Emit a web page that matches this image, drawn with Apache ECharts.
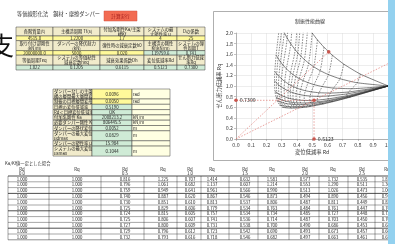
<!DOCTYPE html>
<html>
<head>
<meta charset="utf-8">
<script src="https://cdn.jsdelivr.net/npm/echarts@6/dist/echarts.min.js"></script>
<style>
html, body { margin: 0; padding: 0; background: #fff; }
#main { width: 395px; height: 244px; }
</style>
</head>
<body>
<div id="main"></div>
<script>
// 付加系剛性比 Ka/Kf と 塑性率 μ
const kaKfList = [0, 0.5, 1, 1.5, 2, 2.5, 3, 3.5, 4, 4.5, 5, 6, 7, 8, 9, 10];
const muList = [1, 1.5, 2, 2.5, 3, 4, 5, 6, 8, 10];

// 変位低減率 Rd（行: Ka/Kf, 列: μ）
const rdByKa = [
  [1, 1, 1, 1, 1, 1, 1, 1, 1, 1],
  [0.8165, 0.7958, 0.7593, 0.7395, 0.7298, 0.7244, 0.7269, 0.7323, 0.7456, 0.7589],
  [0.7071, 0.6823, 0.6405, 0.6195, 0.6097, 0.6052, 0.6089, 0.6155, 0.6311, 0.6466],
  [0.6325, 0.6072, 0.5657, 0.5458, 0.5370, 0.5339, 0.5384, 0.5455, 0.5617, 0.5778],
  [0.5774, 0.5527, 0.5128, 0.4943, 0.4866, 0.4846, 0.4897, 0.4971, 0.5136, 0.5297],
  [0.5345, 0.5107, 0.4727, 0.4555, 0.4487, 0.4477, 0.4532, 0.4609, 0.4775, 0.4935],
  [0.5000, 0.4771, 0.4409, 0.4249, 0.4188, 0.4186, 0.4245, 0.4323, 0.4489, 0.4649],
  [0.4714, 0.4494, 0.4148, 0.3999, 0.3944, 0.3949, 0.4010, 0.4089, 0.4255, 0.4414],
  [0.4472, 0.4260, 0.3929, 0.3789, 0.3740, 0.3750, 0.3813, 0.3892, 0.4058, 0.4216],
  [0.4264, 0.4060, 0.3742, 0.3610, 0.3565, 0.3579, 0.3644, 0.3724, 0.3889, 0.4045],
  [0.4082, 0.3885, 0.3580, 0.3454, 0.3413, 0.3431, 0.3497, 0.3577, 0.3742, 0.3897],
  [0.3780, 0.3594, 0.3310, 0.3196, 0.3161, 0.3184, 0.3252, 0.3332, 0.3495, 0.3648],
  [0.3536, 0.3361, 0.3094, 0.2989, 0.2958, 0.2985, 0.3054, 0.3134, 0.3295, 0.3445],
  [0.3333, 0.3167, 0.2915, 0.2818, 0.2791, 0.2820, 0.2889, 0.2968, 0.3128, 0.3276],
  [0.3162, 0.3004, 0.2764, 0.2673, 0.2649, 0.2681, 0.2749, 0.2828, 0.2985, 0.3132],
  [0.3015, 0.2863, 0.2635, 0.2549, 0.2527, 0.2560, 0.2628, 0.2706, 0.2862, 0.3006]
];
// せん断力低減率 Rq
const rqByKa = [
  [1, 1, 1, 1, 1, 1, 1, 1, 1, 1],
  [1.2247, 1.0611, 0.9491, 0.8874, 0.8514, 0.8149, 0.7996, 0.7933, 0.7922, 0.7968],
  [1.4142, 1.1372, 0.9608, 0.8673, 0.8129, 0.7566, 0.7307, 0.7181, 0.7100, 0.7112],
  [1.5811, 1.2144, 0.9901, 0.8733, 0.8055, 0.7341, 0.6999, 0.6819, 0.6671, 0.6644],
  [1.7321, 1.2896, 1.0256, 0.8898, 0.8109, 0.7269, 0.6856, 0.6628, 0.6420, 0.6357],
  [1.8708, 1.3619, 1.0635, 0.9111, 0.8226, 0.7275, 0.6799, 0.6529, 0.6267, 0.6169],
  [2.0000, 1.4312, 1.1022, 0.9349, 0.8376, 0.7326, 0.6792, 0.6484, 0.6173, 0.6044],
  [2.1213, 1.4979, 1.1407, 0.9598, 0.8546, 0.7404, 0.6817, 0.6474, 0.6117, 0.5959],
  [2.2361, 1.5620, 1.1788, 0.9852, 0.8726, 0.7499, 0.6863, 0.6487, 0.6087, 0.5902],
  [2.3452, 1.6238, 1.2162, 1.0108, 0.8912, 0.7605, 0.6924, 0.6517, 0.6077, 0.5866],
  [2.4495, 1.6835, 1.2529, 1.0363, 0.9101, 0.7719, 0.6994, 0.6558, 0.6081, 0.5845],
  [2.6458, 1.7972, 1.3241, 1.0867, 0.9482, 0.7960, 0.7154, 0.6664, 0.6117, 0.5837],
  [2.8284, 1.9043, 1.3922, 1.1357, 0.9861, 0.8209, 0.7329, 0.6790, 0.6178, 0.5857],
  [3.0000, 2.0060, 1.4576, 1.1834, 1.0232, 0.8461, 0.7512, 0.6926, 0.6256, 0.5897],
  [3.1623, 2.1028, 1.5205, 1.2295, 1.0596, 0.8712, 0.7698, 0.7070, 0.6344, 0.5950],
  [3.3166, 2.1953, 1.5810, 1.2743, 1.0951, 0.8960, 0.7885, 0.7217, 0.6439, 0.6011]
];

// 計算結果（設計点）
const designRd = 0.5123;
const designRq = 0.7300;
const elasticRd = 0.6086;   // μ=1 上の点
const elasticRq = 1.6432;

// 上の入力表
const topHead1 = ['各階質量(t)', '主構造周期 Tf(s)', '付加系剛性Ka/主架\n構Kf', 'システムの最\n大塑性率 μ', 'Dの係数'];
const topVal1 = ['4515.0', '1.2200', '1.7', '4', '25'];
const topHead2 = ['取り付け部剛性\n(kN/m)', 'ダンパーの降伏耐力\n(kN)', '弾性時の減衰定数h0', '主構造の剛性\nKf(kN/m)', 'システムの弾\n性周期T'];
const topVal2 = ['20000000.0', '5000', '0.020', '119759.6', '0.741'];
const topHead3 = ['等価周期Teq', 'システムの等価粘性\n減衰定数heq', '減衰効果係数Dh', '変位低減率Rd', 'せん断力低減\n率Rq'];
const topVal3 = ['1.022', '0.1205', '0.6115', '0.5123', '0.7300'];

// 中の結果表
const midLabels = ['ダンパーなしの主架\n構の層間最大層間変', '制振の目標層間変形角', '目標の変位低減率', 'Rd＜目標変位低減率', '付加系剛性 Ka',
  '必要ダンパー剛性 Kd', 'ダンパーの降伏変位', 'ダンパーの最大変位\nudmax', 'ダンパーの塑性率 μd', 'システムの最大変位\nusmax'];
const midValues = ['0.0096', '0.0050', '0.5190', 'OK', '2008213.2', '806445.5', '0.0052', '0.0829', '15.984', '0.1044'];
const midUnits = ['rad', 'rad', '', '', 'kN/m', 'kN/m', 'm', 'm', '', 'm'];

// 下の表 Ka/Kf 一定
const tableKa = ['0.0', '0.5', '1.0', '1.5', '2.0', '2.5'];
const tableRd = [
  [1, 1, 1, 1, 1, 1, 1, 1, 1, 1, 1],
  [0.816, 0.796, 0.759, 0.740, 0.730, 0.725, 0.724, 0.725, 0.727, 0.729, 0.732],
  [0.707, 0.682, 0.641, 0.620, 0.610, 0.606, 0.605, 0.607, 0.609, 0.612, 0.616],
  [0.632, 0.607, 0.566, 0.546, 0.537, 0.534, 0.534, 0.536, 0.538, 0.542, 0.546],
  [0.577, 0.553, 0.513, 0.494, 0.487, 0.484, 0.485, 0.487, 0.490, 0.493, 0.497],
  [0.535, 0.511, 0.473, 0.456, 0.449, 0.447, 0.448, 0.450, 0.453, 0.457, 0.461]
];
const tableRq = [
  [1, 1, 1, 1, 1, 1, 1, 1, 1, 1, 1],
  [1.225, 1.061, 0.949, 0.887, 0.851, 0.829, 0.815, 0.806, 0.800, 0.796, 0.793],
  [1.414, 1.137, 0.961, 0.867, 0.813, 0.779, 0.757, 0.741, 0.731, 0.723, 0.718],
  [1.581, 1.214, 0.990, 0.873, 0.806, 0.763, 0.734, 0.714, 0.700, 0.690, 0.682],
  [1.732, 1.290, 1.026, 0.890, 0.811, 0.761, 0.727, 0.703, 0.686, 0.673, 0.663],
  [1.871, 1.362, 1.064, 0.911, 0.823, 0.766, 0.728, 0.700, 0.680, 0.665, 0.653]
];

const JP = '"Noto Sans CJK JP", "Noto Sans", sans-serif';
const g = [];

function text(x, y, s, size, align, color, vAlign) {
  g.push({
    type: 'text', x: x, y: y, silent: true,
    style: {
      text: s, font: size + 'px ' + JP, fill: color || '#222',
      align: align || 'left', verticalAlign: vAlign || 'middle', lineHeight: size * 1.12
    }
  });
}

function cell(x, y, w, h, fill, s, size, align) {
  g.push({
    type: 'rect', silent: true,
    shape: { x: x, y: y, width: w, height: h },
    style: { fill: fill, stroke: '#3c3c3c', lineWidth: 0.5 }
  });
  if (s === undefined || s === '') return;
  if (align === 'left') text(x + 1, y + h / 2, s, size, 'left');
  else text(x + w / 2, y + h / 2, s, size, 'center');
}

const HEAD = '#F1EBCB', YEL = '#FFF99A', GRN = '#CFEBD6', PALE = '#FFFFE2';

// タイトルとボタン
text(17, 14, '等価線形化法　鋼材・摩擦ダンパー', 5.2, 'left', '#333');
g.push({ type: 'rect', silent: true, shape: { x: 104, y: 11, width: 33, height: 10 },
  style: { fill: '#F26B52', stroke: '#D05040', lineWidth: 0.5 } });
text(120.5, 16, '計算実行', 4.6, 'center', '#A01818');

// 左端の大きな文字（はみ出し）
text(-11, 45, '支', 25, 'left', '#111');

// 上の表
const topCols = [16, 53, 100, 144, 177, 205];
const topRows = [
  [27, 9, HEAD, topHead1],
  [36, 4.6, YEL, topVal1],
  [40.6, 10, HEAD, topHead2],
  [50.6, 4.6, [YEL, YEL, YEL, GRN, GRN], topVal2],
  [55.2, 10, HEAD, topHead3],
  [65.2, 4.8, GRN, topVal3]
];
topRows.forEach(function (r) {
  for (let c = 0; c < 5; c++) {
    const fill = Array.isArray(r[2]) ? r[2][c] : r[2];
    cell(topCols[c], r[0], topCols[c + 1] - topCols[c], r[1], fill, r[3][c], 4.3);
  }
});

// 中の表
const midCols = [53, 92, 132, 170];
const midH = [10, 5.3, 5.3, 5.3, 5.3, 5.3, 5.3, 10, 5.3, 10];
let my = 89;
midLabels.forEach(function (lab, i) {
  const h = midH[i];
  cell(midCols[0], my, midCols[1] - midCols[0], h, HEAD, lab, 4.3, 'left');
  cell(midCols[1], my, midCols[2] - midCols[1], h, i < 2 ? YEL : GRN, midValues[i], 4.3);
  cell(midCols[2], my, midCols[3] - midCols[2], h, PALE, midUnits[i], 4.3, 'left');
  my += h;
});

// 下の表
text(5, 163.5, 'Ka/Kf値一定とした場合', 4.3, 'left', '#333');
const botCenters = [22, 77, 125, 163, 190, 212, 245, 272, 305, 333, 362, 387];
const botEdges = [8, 49, 101, 144, 177, 201, 229, 258, 289, 319, 348, 375, 400];
botCenters.forEach(function (cx, c) {
  const isRd = c % 2 === 0;
  text(cx, 169, isRd ? 'Rd' : 'Rq', 4.3, 'center', '#222');
  if (isRd) text(cx, 173.3, tableKa[c / 2], 4.3, 'center', '#222');
});
const rowTop = 176, rowH = 5.8;
for (let r = 0; r < 11; r++) {
  const y = rowTop + r * rowH;
  g.push({ type: 'line', silent: true, shape: { x1: botEdges[0], y1: y, x2: 400, y2: y },
    style: { stroke: '#222', lineWidth: r % 3 === 0 ? 0.8 : 0.4 } });
  botCenters.forEach(function (cx, c) {
    const ki = Math.floor(c / 2);
    const v = c % 2 === 0 ? tableRd[ki][r] : tableRq[ki][r];
    text(cx, y + rowH / 2, v.toFixed(3), 4.3, 'center', '#222');
  });
}
g.push({ type: 'line', silent: true, shape: { x1: botEdges[0], y1: rowTop + 11 * rowH, x2: 400, y2: rowTop + 11 * rowH },
  style: { stroke: '#222', lineWidth: 0.5 } });
botEdges.forEach(function (x) {
  g.push({ type: 'line', silent: true, shape: { x1: x, y1: rowTop, x2: x, y2: rowTop + 11 * rowH },
    style: { stroke: '#222', lineWidth: 0.4 } });
});

// グラフ枠
g.push({ type: 'rect', silent: true, z: -10, shape: { x: 213.5, y: 11.5, width: 190, height: 149 },
  style: { fill: '#fff', stroke: '#9a9a9a', lineWidth: 0.8 } });
text(310, 21, '制振性能曲線', 5, 'center', '#333');

// 右端の青い帯
g.push({ type: 'rect', silent: true, z: 50, shape: { x: 388, y: 0, width: 7, height: 244 },
  style: { fill: '#93D1EF' } });

// 系列
const series = [];
kaKfList.forEach(function (k, i) {
  if (k === 0) return;
  series.push({
    type: 'line', name: 'Ka/Kf=' + k, silent: true, symbol: 'none', animation: false,
    data: muList.map(function (m, j) { return [rdByKa[i][j], rqByKa[i][j]]; }),
    smooth: 0.3,
    lineStyle: { color: '#3a3a3a', width: 0.6, type: [1.5, 1.2] }
  });
});
muList.forEach(function (m, j) {
  series.push({
    type: 'line', name: 'μ=' + m, silent: true, symbol: 'none', animation: false,
    data: kaKfList.map(function (k, i) { return [rdByKa[i][j], rqByKa[i][j]]; }),
    smooth: 0.2,
    lineStyle: { color: '#2a2a2a', width: 0.6 }
  });
});

const RED = '#C9564E';
const redLine = { color: '#E07A74', width: 0.7, type: [1.5, 1.5] };
const lblStyle = { show: true, position: 'right', distance: 2, fontSize: 5.2, color: '#333', fontFamily: JP };
series.push({
  type: 'line', silent: true, animation: false, symbol: 'circle', symbolSize: 3.6, z: 10,
  itemStyle: { color: RED }, lineStyle: redLine,
  data: [
    { value: [0, designRq], label: Object.assign({ formatter: designRq.toFixed(4) }, lblStyle) },
    [designRd, designRq],
    { value: [designRd, 0], label: Object.assign({ formatter: designRd.toFixed(4) }, lblStyle) }
  ]
});
series.push({
  type: 'line', silent: true, animation: false, symbol: 'circle', symbolSize: 3.6, z: 10,
  itemStyle: { color: RED }, lineStyle: redLine,
  data: [{ value: [0, 0], symbol: 'none' }, [elasticRd, elasticRq]]
});
series.push({
  type: 'line', silent: true, animation: false, symbol: 'none', z: 10,
  lineStyle: redLine,
  data: [[0, 0], [1, designRq / designRd]]
});

const axisFont = { fontSize: 5.3, color: '#444', fontFamily: JP };

const option = {
  animation: false,
  graphic: { elements: g },
  grid: { left: 236, top: 33, width: 165, height: 106, containLabel: false },
  xAxis: {
    type: 'value', min: 0, max: 1, interval: 0.1,
    name: '変位低減率 Rd', nameLocation: 'middle', nameGap: 10,
    nameTextStyle: { fontSize: 5.3, color: '#333', fontFamily: JP },
    axisLine: { lineStyle: { color: '#888', width: 0.6 } },
    axisTick: { show: true, length: 2, lineStyle: { color: '#888', width: 0.5 } },
    axisLabel: Object.assign({ margin: 3, formatter: function (v) { return v.toFixed(1); } }, axisFont),
    splitLine: { lineStyle: { color: '#DADADA', width: 0.5 } }
  },
  yAxis: {
    type: 'value', min: 0, max: 2, interval: 0.2,
    name: 'せん断力低減率 Rq', nameLocation: 'middle', nameGap: 14,
    nameTextStyle: { fontSize: 5.3, color: '#333', fontFamily: JP },
    axisLine: { show: true, lineStyle: { color: '#888', width: 0.6 } },
    axisTick: { show: true, length: 2, lineStyle: { color: '#888', width: 0.5 } },
    axisLabel: Object.assign({ margin: 3, formatter: function (v) { return v.toFixed(1); } }, axisFont),
    splitLine: { lineStyle: { color: '#DADADA', width: 0.5 } }
  },
  series: series
};

const chart = echarts.init(document.getElementById('main'));
chart.setOption(option);
window.onresize = function () { chart.resize(); };
</script>
</body>
</html>
